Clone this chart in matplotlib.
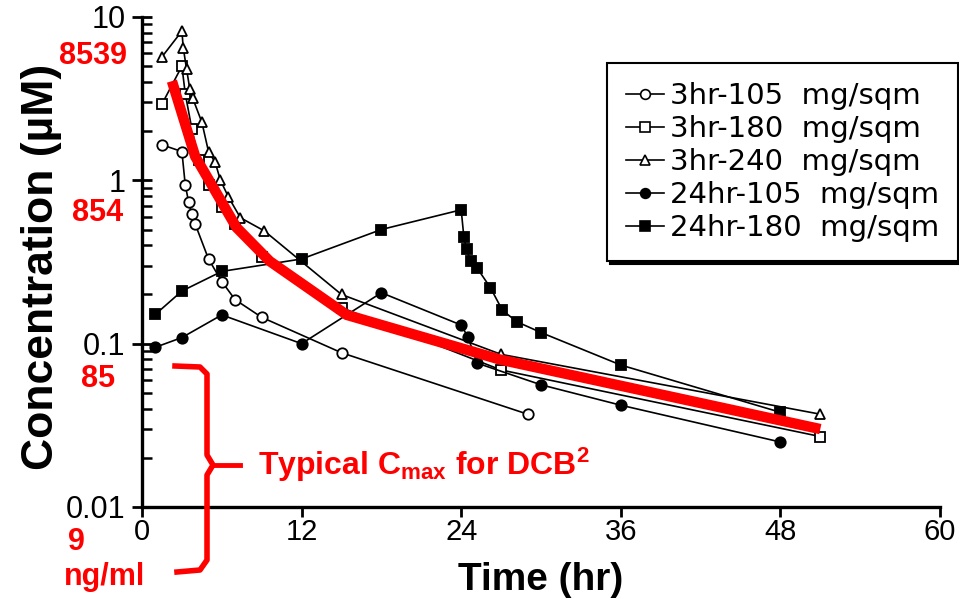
import numpy as np
import matplotlib
matplotlib.use("Agg")
import matplotlib.pyplot as plt
from matplotlib.lines import Line2D

# =========================================
# Data
# =========================================
t_3h105 = [1.5, 3.0, 3.25, 3.5, 3.75, 4.0, 5.0, 6.0, 7.0, 9.0, 15.0, 29.0]
c_3h105 = [1.65, 1.5, 0.94, 0.74, 0.62, 0.54, 0.33, 0.24, 0.186, 0.145, 0.088, 0.037]

t_3h180 = [1.5, 3.0, 3.25, 3.75, 4.25, 5.0, 6.0, 7.0, 9.0, 15.0, 27.0, 51.0]
c_3h180 = [2.93, 5.0, 3.4, 2.06, 1.34, 0.94, 0.69, 0.54, 0.34, 0.166, 0.069, 0.027]

t_3h240 = [1.5, 3.0, 3.1, 3.35, 3.6, 3.8, 4.5, 5.0, 5.5, 5.9, 6.5, 7.4, 9.2, 15.0, 27.0, 51.0]
c_3h240 = [5.7, 8.2, 6.5, 4.8, 3.6, 3.2, 2.27, 1.5, 1.29, 1.0, 0.79, 0.59, 0.49, 0.20, 0.086, 0.037]

t_24h105 = [1, 3, 6, 12, 18, 24, 24.5, 25.2, 30, 36, 48]
c_24h105 = [0.095, 0.109, 0.15, 0.10, 0.205, 0.13, 0.11, 0.076, 0.056, 0.042, 0.025]

t_24h180 = [1, 3, 6, 12, 18, 24, 24.2, 24.4, 24.7, 25.2, 26.2, 27.1, 28.2, 30, 36, 48]
c_24h180 = [0.151, 0.21, 0.277, 0.33, 0.50, 0.66, 0.45, 0.38, 0.32, 0.29, 0.22, 0.16, 0.136, 0.117, 0.074, 0.038]

# red overlay curve
t_red = [2.25, 4.0, 7.1, 9.6, 15.4, 26.9, 51.0]
c_red = [4.05, 1.40, 0.515, 0.32, 0.15, 0.080, 0.030]

x_ticks = [0, 12, 24, 36, 48, 60]
y_ticks = [0.01, 0.1, 1, 10]
y_ticklabels = ["0.01", "0.1", "1", "10"]
ngml_labels = ["9", "85", "854", "8539"]

series = [
    (t_3h105, c_3h105, "o", "white", "3hr-105  mg/sqm"),
    (t_3h180, c_3h180, "s", "white", "3hr-180  mg/sqm"),
    (t_3h240, c_3h240, "^", "white", "3hr-240  mg/sqm"),
    (t_24h105, c_24h105, "o", "black", "24hr-105  mg/sqm"),
    (t_24h180, c_24h180, "s", "black", "24hr-180  mg/sqm"),
]

W, H = 959, 599
def px(x, y):
    return x / W, 1 - y / H

# =========================================
# Figure
# =========================================
plt.rcParams["mathtext.default"] = "regular"
fig = plt.figure(figsize=(9.59, 5.99), dpi=100)
ax = fig.add_axes([142 / W, 1 - 507 / H, (940 - 142) / W, (507 - 17) / H])

handles = []
for t, c, m, fc, lab in series:
    ms = 7 if m == "s" else 7.5
    ax.plot(t, c, color="black", lw=1.2, marker=m, ms=ms, mfc=fc, mec="black",
            mew=1.3, zorder=3, clip_on=False)
    handles.append(Line2D([], [], color="black", lw=1.2, marker=m, ms=7, mfc=fc,
                          mec="black", mew=1.2, label=lab))

ax.plot(t_red, c_red, color="#ff0000", lw=7.5, solid_capstyle="butt",
        solid_joinstyle="miter", zorder=5)

ax.set_yscale("log")
ax.set_xlim(0, 60)
ax.set_ylim(0.01, 10)
ax.set_xticks(x_ticks)
ax.set_xticklabels([str(v) for v in x_ticks], family="Liberation Sans", fontsize=21)
ax.set_yticks(y_ticks)
ax.set_yticklabels(y_ticklabels, family="Liberation Sans", fontsize=22)

for side in ["top", "right"]:
    ax.spines[side].set_visible(False)
for side in ["left", "bottom"]:
    ax.spines[side].set_linewidth(2.4)

ax.tick_params(axis="x", which="major", direction="out", length=7, width=2, pad=1)
ax.tick_params(axis="y", which="major", direction="inout", length=14, width=2, pad=5)
ax.tick_params(axis="y", which="minor", direction="in", length=7, width=1.8)

ax.set_xlabel("Time (hr)", family="Liberation Sans", fontweight="bold", fontsize=28,
              va="top")
ax.xaxis.set_label_coords(0.5, -0.112)
ax.set_ylabel("Concentration (\u00b5M)", family="Liberation Sans", fontweight="bold",
              fontsize=32)
ax.yaxis.set_label_coords(-0.1, 0.49)

leg = fig.legend(handles=handles, loc="upper left", bbox_to_anchor=px(607, 63),
                 prop={"family": "DejaVu Sans", "size": 21}, frameon=True,
                 fancybox=False, edgecolor="black", handlelength=1.3,
                 handletextpad=0.2, labelspacing=0.17, borderpad=0.65,
                 borderaxespad=0, shadow={"color": "black", "alpha": 1})
leg.get_frame().set_linewidth(1.5)

# =========================================
# Red annotations (ng/ml equivalents)
# =========================================
red = "#ff0000"
rkw = dict(color=red, family="Liberation Sans", fontweight="bold", fontsize=22)
fig.text(*px(127, 56), ngml_labels[3], ha="right", va="center", **rkw)
fig.text(*px(123, 213), ngml_labels[2], ha="right", va="center", **rkw)
fig.text(*px(115, 379), ngml_labels[1], ha="right", va="center", **rkw)
fig.text(*px(76, 542), ngml_labels[0], ha="center", va="center", **rkw)
fig.text(*px(104, 577), "ng/ml", ha="center", va="center", **rkw)

# curly bracket
bx = [175, 200, 207, 207, 213, 207, 207, 200, 177]
by = [366, 367, 374, 455, 465, 475, 560, 570, 572]
fig.add_artist(Line2D([x / W for x in bx], [1 - y / H for y in by], color=red,
                      lw=4, solid_joinstyle="round"))
fig.add_artist(Line2D([213 / W, 240 / W], [1 - 465 / H, 1 - 465 / H], color=red, lw=3.5))

fig.text(*px(258, 465), r"Typical C$_{max}$ for DCB$^{2}$", ha="left", va="center",
         color=red, family="Liberation Sans", fontweight="bold", fontsize=23)

fig.savefig("out.png", dpi=100)
